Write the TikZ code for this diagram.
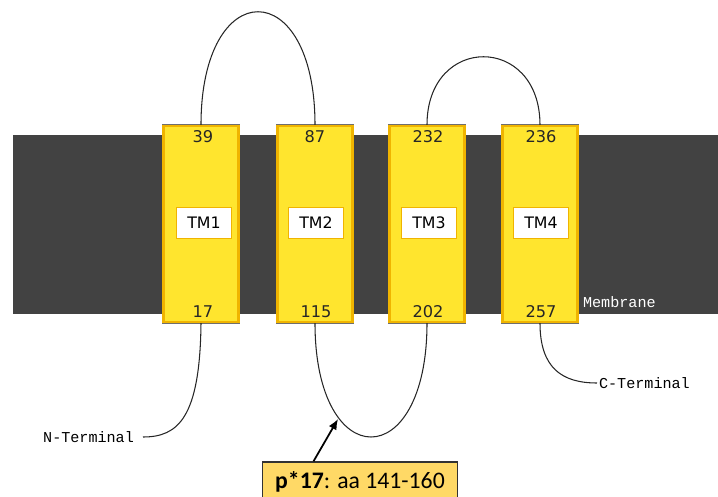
\documentclass[tikz,border=0pt]{standalone}
\usepackage{fontspec}
\setmainfont{DejaVu Sans}
\newfontfamily\termfont{Liberation Mono}
\newfontfamily\calloutfont{Carlito}
\usetikzlibrary{arrows.meta,positioning}
\definecolor{membranegray}{RGB}{66,66,66}
\definecolor{tmyellow}{RGB}{255,229,46}
\definecolor{tmorange}{RGB}{240,180,0}
\definecolor{tmedge}{RGB}{110,110,110}
\definecolor{calloutfill}{RGB}{255,217,102}

\begin{document}
\begin{tikzpicture}[x=0.02cm,y=-0.02cm,
    tmbox/.style={fill=tmyellow,draw=tmorange,line width=1.2pt,
        preaction={draw=tmedge,line width=2.2pt},
        minimum width=1.5cm,minimum height=3.92cm,inner sep=0pt},
    tmlabel/.style={fill=white,draw=tmorange,line width=0.9pt,
        minimum width=1.1cm,minimum height=0.62cm,inner sep=0pt,
        font=\fontsize{9}{10}\selectfont},
    resnum/.style={inner sep=0pt,font=\fontsize{9.2}{10}\selectfont,text=black!85},
    termtext/.style={inner sep=1pt,font=\termfont\fontsize{8.6}{10}\selectfont},
    loopline/.style={line width=0.6pt,black!85},
    callout/.style={fill=calloutfill,draw=black!80,line width=0.8pt,
        minimum width=3.9cm,minimum height=0.8cm,inner sep=0pt,
        font=\calloutfont\fontsize{13.5}{15}\selectfont}]
    \useasboundingbox (0,0) rectangle (718,497);
    % membrane band
    \fill[membranegray] (13,135) rectangle (718,314);
    \node[termtext,text=white,anchor=west] (memlabel) at (581,302) {Membrane};
    % transmembrane segments
    \node[tmbox] (tm1) at (201,224) {};
    \node[tmbox] (tm2) at (315,224) {};
    \node[tmbox] (tm3) at (427,224) {};
    \node[tmbox] (tm4) at (540,224) {};
    \node[tmlabel] (lab1) at (204,223) {TM1};
    \node[tmlabel] (lab2) at (316,223) {TM2};
    \node[tmlabel] (lab3) at (429,223) {TM3};
    \node[tmlabel] (lab4) at (541,223) {TM4};
    % residue numbers
    \node[resnum] (r39) at (203,137) {39};
    \node[resnum] (r87) at (315,137) {87};
    \node[resnum] (r232) at (428,137) {232};
    \node[resnum] (r236) at (541,137) {236};
    \node[resnum] (r17) at (203,312) {17};
    \node[resnum] (r115) at (316,312) {115};
    \node[resnum] (r202) at (428,312) {202};
    \node[resnum] (r257) at (541,312) {257};
    % loops
    \draw[loopline] (tm1.north) .. controls (201,-26) and (315,-26) .. (tm2.north);
    \draw[loopline] (tm3.north) .. controls (427,34) and (540,34) .. (tm4.north);
    \draw[loopline] (tm2.south) .. controls (315,475) and (427,475) .. (tm3.south);
    % termini
    \coordinate (nend) at (143,437);
    \node[termtext,left=4pt of nend] (nterm) {N-Terminal};
    \draw[loopline] (tm1.south) .. controls (200,418) and (178,437) .. (nend);
    \coordinate (cend) at (597,383);
    \node[termtext,right=0pt of cend] (cterm) {C-Terminal};
    \draw[loopline] (tm4.south) .. controls (540,368) and (562,383) .. (cend);
    % callout
    \node[callout] (pep) at (360,482) {\textbf{p*17}: aa 141-160};
    \coordinate (looptip) at (338,419);
    \draw[-{Latex[length=6pt,width=5pt]},line width=1pt] (pep.156) -- (looptip);
\end{tikzpicture}
\end{document}
